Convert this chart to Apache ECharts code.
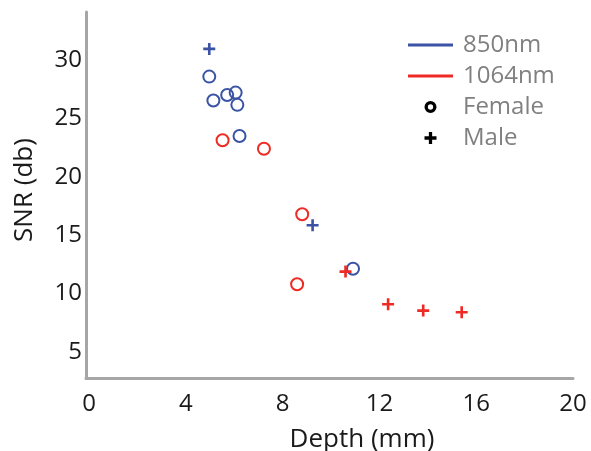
<!DOCTYPE html>
<html>
<head>
<meta charset="utf-8">
<script src="https://cdn.jsdelivr.net/npm/echarts@6/dist/echarts.min.js"></script>
<style>html,body{margin:0;padding:0;background:#fff;}#c{width:591px;height:451px;}</style>
</head>
<body>
<div id="c"></div>
<script>
// Depth (mm), SNR (db)
var blueFemaleDepth = [4.97, 5.14, 5.71, 6.06, 6.13, 6.22, 10.91];
var blueFemaleSNR   = [28.57, 26.52, 27.0, 27.2, 26.15, 23.49, 12.12];
var blueMaleDepth   = [4.97, 9.24];
var blueMaleSNR     = [30.94, 15.85];
var redFemaleDepth  = [5.52, 7.23, 8.81, 8.60];
var redFemaleSNR    = [23.12, 22.40, 16.79, 10.80];
var redMaleDepth    = [10.60, 12.36, 13.81, 15.40];
var redMaleSNR      = [11.88, 9.08, 8.54, 8.40];

var xTicks = [0, 4, 8, 12, 16, 20];
var yTicks = [5, 10, 15, 20, 25, 30];
var legendNames = ['850nm', '1064nm', 'Female', 'Male'];

var BLUE = '#3a53a4', RED = '#ee2a24';
var PLUS = 'path://M4.3,0H6.7V4.3H11V6.7H6.7V11H4.3V6.7H0V4.3H4.3Z';
var PLUS_BOLD = 'path://M4,0H7V4H11V7H7V11H4V7H0V4H4Z';
var RING = 'path://M5,0A5,5,0,1,1,5,10A5,5,0,1,1,5,0ZM5,2.8A2.2,2.2,0,1,0,5,7.2A2.2,2.2,0,1,0,5,2.8Z';
var LINE = 'path://M0,0H45V3H0Z';

function pairs(xs, ys) { return xs.map(function (x, i) { return [x, ys[i]]; }); }

function circleSeries(name, xs, ys, color) {
  return { name: name, type: 'scatter', data: pairs(xs, ys), symbol: 'circle', symbolSize: 12,
    itemStyle: { color: 'rgba(0,0,0,0)', borderColor: color, borderWidth: 2, opacity: 1 }, emphasis: { disabled: true } };
}
function plusSeries(name, xs, ys, color) {
  return { name: name, type: 'scatter', data: pairs(xs, ys), symbol: PLUS, symbolSize: 12,
    itemStyle: { color: color, opacity: 1 }, emphasis: { disabled: true } };
}

var chart = echarts.init(document.getElementById('c'), null, { renderer: 'canvas' });
var FONT = 'Open Sans';
chart.setOption({
  animation: false,
  backgroundColor: '#fff',
  grid: { left: 86, right: 18, top: 12, bottom: 73, outerBoundsMode: 'none', containLabel: false },
  xAxis: {
    type: 'value', min: -0.124, max: 20,
    name: 'Depth (mm)', nameLocation: 'middle', nameGap: 49,
    nameTextStyle: { fontFamily: FONT, fontSize: 26, color: '#1a1a1a', padding: [0, 0, 0, 65], lineHeight: 26 },
    axisLine: { show: true, onZero: false, lineStyle: { color: '#a6a6a6', width: 3 } },
    axisTick: { show: false },
    splitLine: { show: false },
    axisLabel: { customValues: xTicks, fontFamily: FONT, fontSize: 24, color: '#1a1a1a', margin: 14, lineHeight: 24 }
  },
  yAxis: {
    type: 'value', min: 2.77, max: 34.1,
    name: 'SNR (db)', nameLocation: 'middle', nameGap: 48, nameRotate: 90,
    nameTextStyle: { fontFamily: FONT, fontSize: 26, color: '#1a1a1a', padding: [0, 0, 0, 10], lineHeight: 26 },
    axisLine: { show: true, onZero: false, lineStyle: { color: '#a6a6a6', width: 3 } },
    axisTick: { show: false },
    splitLine: { show: false },
    axisLabel: { customValues: yTicks, fontFamily: FONT, fontSize: 24, color: '#1a1a1a', margin: 4 }
  },
  legend: {
    orient: 'vertical', left: 403, top: 28, itemWidth: 45, itemHeight: 12, itemGap: 7,
    selectedMode: false,
    textStyle: { fontFamily: FONT, fontSize: 24, color: '#808080', lineHeight: 24, padding: [0, 0, 0, 5] },
    data: [
      { name: legendNames[0], icon: LINE },
      { name: legendNames[1], icon: LINE },
      { name: legendNames[2], icon: RING },
      { name: legendNames[3], icon: PLUS_BOLD }
    ]
  },
  series: [
    circleSeries('850nm Female', blueFemaleDepth, blueFemaleSNR, BLUE),
    plusSeries('850nm Male', blueMaleDepth, blueMaleSNR, BLUE),
    circleSeries('1064nm Female', redFemaleDepth, redFemaleSNR, RED),
    plusSeries('1064nm Male', redMaleDepth, redMaleSNR, RED),
    { name: legendNames[0], type: 'scatter', data: [], itemStyle: { color: BLUE, opacity: 1 } },
    { name: legendNames[1], type: 'scatter', data: [], itemStyle: { color: RED, opacity: 1 } },
    { name: legendNames[2], type: 'scatter', data: [], itemStyle: { color: '#000', opacity: 1 } },
    { name: legendNames[3], type: 'scatter', data: [], itemStyle: { color: '#000', opacity: 1 } }
  ]
});
</script>
</body>
</html>
